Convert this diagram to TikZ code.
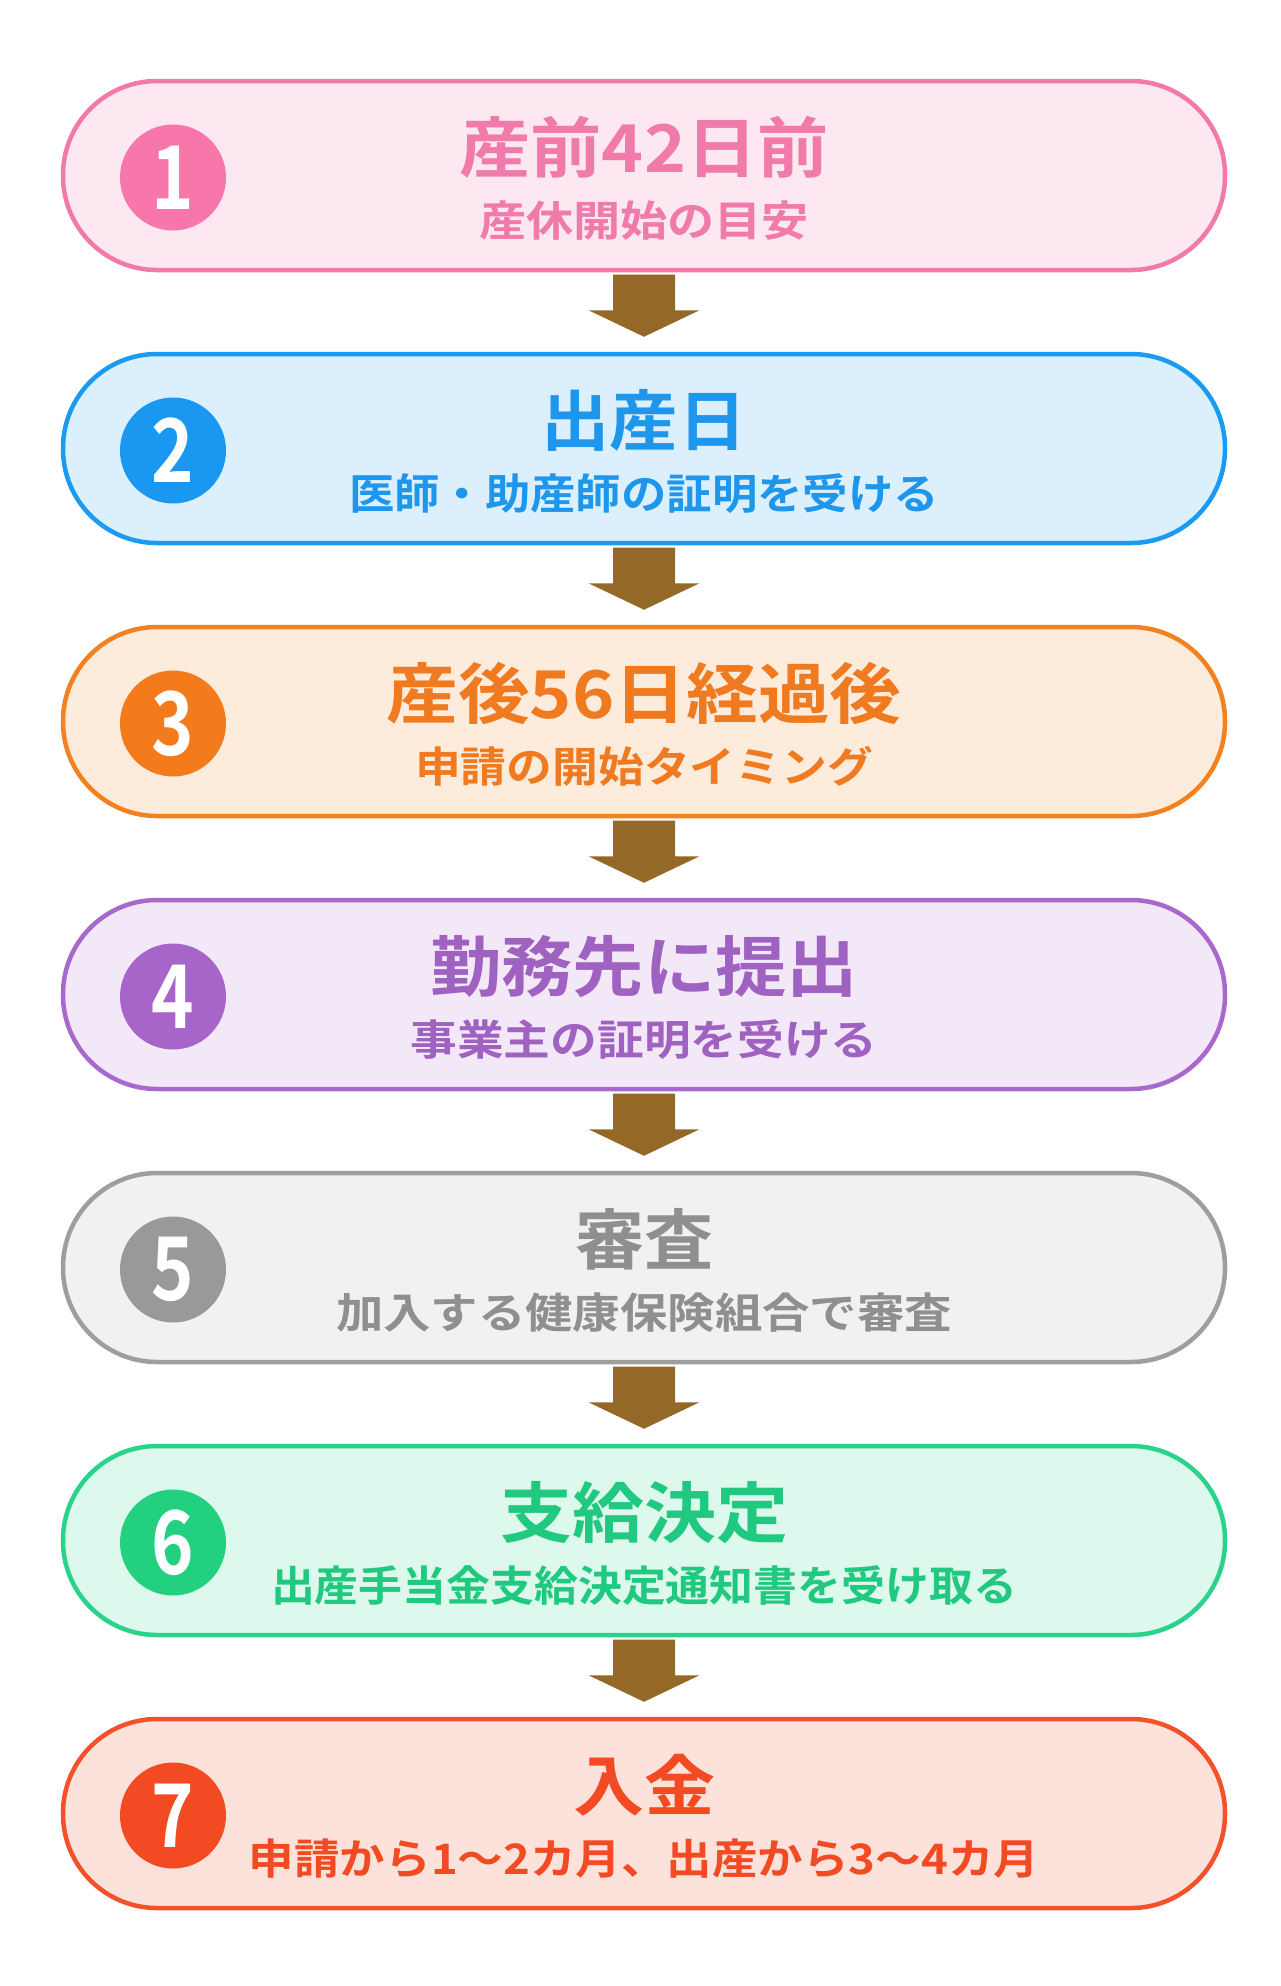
\documentclass[tikz,border=0pt]{standalone}
\usepackage{fontspec}
\usepackage{graphicx}
\usetikzlibrary{calc}
\newfontfamily\jp{Noto Sans CJK JP Bold}
\newcommand\fitt[2]{\resizebox{#1pt}{\height}{#2}}
\newcommand\numfont{\jp\fontsize{88}{88}\selectfont}
% colours
\definecolor{c1s}{HTML}{F27AAA}\definecolor{c1f}{HTML}{FDE8F2}\definecolor{c1c}{HTML}{F777AA}\definecolor{c1t}{HTML}{F07AAA}
\definecolor{c2s}{HTML}{1A9AF0}\definecolor{c2f}{HTML}{DCEFFC}\definecolor{c2c}{HTML}{1A97F0}\definecolor{c2t}{HTML}{1D96EC}
\definecolor{c3s}{HTML}{F48120}\definecolor{c3f}{HTML}{FDEBDC}\definecolor{c3c}{HTML}{F47B1C}\definecolor{c3t}{HTML}{F07A1F}
\definecolor{c4s}{HTML}{A868CC}\definecolor{c4f}{HTML}{F3E8F8}\definecolor{c4c}{HTML}{A865C9}\definecolor{c4t}{HTML}{A062C0}
\definecolor{c5s}{HTML}{9E9E9E}\definecolor{c5f}{HTML}{F1F1F1}\definecolor{c5c}{HTML}{999999}\definecolor{c5t}{HTML}{8F8F8F}
\definecolor{c6s}{HTML}{2AD38A}\definecolor{c6f}{HTML}{DDF8EC}\definecolor{c6c}{HTML}{22D07F}\definecolor{c6t}{HTML}{20C97F}
\definecolor{c7s}{HTML}{F4502A}\definecolor{c7f}{HTML}{FDE2DC}\definecolor{c7c}{HTML}{F24A22}\definecolor{c7t}{HTML}{F24A22}
\definecolor{arrowc}{HTML}{946826}
\tikzset{
  stage/.style={draw, line width=4.5pt, rounded corners=94pt, minimum width=1162pt, minimum height=189pt, inner sep=0pt},
  numc/.style={circle, minimum size=106pt, inner sep=0pt, text=white, font=\numfont},
  ttl/.style={anchor=base, inner sep=0pt, font=\jp\fontsize{66}{66}\selectfont},
  subtl/.style={anchor=base, inner sep=0pt, font=\jp\fontsize{42}{42}\selectfont},
  flowarrow/.style={fill=arrowc, draw=none}
}
\newcommand\numtxt[1]{\scalebox{0.82}[1]{#1}}
\newcommand\flow[2]{%
  \fill[flowarrow] ($(#1.south)+(-31,2.25)$) -- ($(#1.south)+(31,2.25)$) -- ($(#1.south)+(31,38)$) -- ($(#1.south)+(55.5,38)$) -- ($(#2.north)+(0,-15)$) -- ($(#1.south)+(-55.5,38)$) -- ($(#1.south)+(-31,38)$) -- cycle;}
\begin{document}
\begin{tikzpicture}[x=1pt,y=-1pt]
\useasboundingbox (0,0) rectangle (1280,1986);
% 1
\node[stage, draw=c1s, fill=c1f] (b1) at (644,175.5) {};
\node[numc, fill=c1c] (n1) at (173,177.5) {\numtxt{1}};
\node[ttl, text=c1t] (t1) at (644,172.5) {\fitt{369}{産前42日前}};
\node[subtl, text=c1t] (s1) at (644,236.5) {\fitt{330}{産休開始の目安}};
% 2
\node[stage, draw=c2s, fill=c2f] (b2) at (644,448.5) {};
\node[numc, fill=c2c] (n2) at (173,450.5) {\numtxt{2}};
\node[ttl, text=c2t] (t2) at (644,445.5) {\fitt{205}{出産日}};
\node[subtl, text=c2t] (s2) at (644,509.5) {\fitt{590}{医師・助産師の証明を受ける}};
% 3
\node[stage, draw=c3s, fill=c3f] (b3) at (644,721.5) {};
\node[numc, fill=c3c] (n3) at (173,723.5) {\numtxt{3}};
\node[ttl, text=c3t] (t3) at (644,718.5) {\fitt{515}{産後56日経過後}};
\node[subtl, text=c3t] (s3) at (644,782.5) {\fitt{458}{申請の開始タイミング}};
% 4
\node[stage, draw=c4s, fill=c4f] (b4) at (644,994.5) {};
\node[numc, fill=c4c] (n4) at (173,996.5) {\numtxt{4}};
\node[ttl, text=c4t] (t4) at (644,991.5) {\fitt{428}{勤務先に提出}};
\node[subtl, text=c4t] (s4) at (644,1055.5) {\fitt{467}{事業主の証明を受ける}};
% 5
\node[stage, draw=c5s, fill=c5f] (b5) at (644,1267.5) {};
\node[numc, fill=c5c] (n5) at (173,1269.5) {\numtxt{5}};
\node[ttl, text=c5t] (t5) at (644,1264.5) {\fitt{138}{審査}};
\node[subtl, text=c5t] (s5) at (644,1328.5) {\fitt{616}{加入する健康保険組合で審査}};
% 6
\node[stage, draw=c6s, fill=c6f] (b6) at (644,1540.5) {};
\node[numc, fill=c6c] (n6) at (173,1542.5) {\numtxt{6}};
\node[ttl, text=c6t] (t6) at (644,1537.5) {\fitt{288}{支給決定}};
\node[subtl, text=c6t] (s6) at (644,1601.5) {\fitt{746}{出産手当金支給決定通知書を受け取る}};
% 7
\node[stage, draw=c7s, fill=c7f] (b7) at (644,1813.5) {};
\node[numc, fill=c7c] (n7) at (173,1815.5) {\numtxt{7}};
\node[ttl, text=c7t] (t7) at (644,1810.5) {\fitt{142}{入金}};
\node[subtl, text=c7t] (s7) at (644,1874.5) {\fitt{790}{申請から1〜2カ月、出産から3〜4カ月}};
% arrows
\flow{b1}{b2}
\flow{b2}{b3}
\flow{b3}{b4}
\flow{b4}{b5}
\flow{b5}{b6}
\flow{b6}{b7}
\end{tikzpicture}
\end{document}
